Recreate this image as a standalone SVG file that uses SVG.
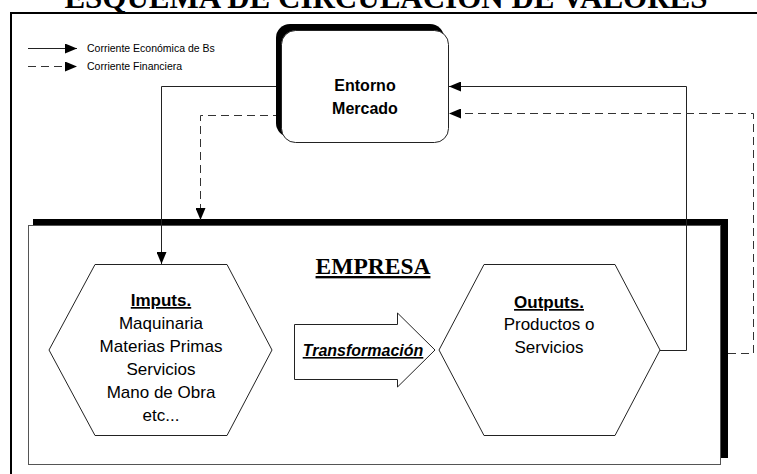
<svg xmlns="http://www.w3.org/2000/svg" width="757" height="474" viewBox="0 0 757 474">
<defs>
<marker id="ah" viewBox="0 0 12 10" refX="12" refY="5" markerWidth="12" markerHeight="10" markerUnits="userSpaceOnUse" orient="auto">
<path d="M0,0 L12,5 L0,10 Z" fill="#000"/>
</marker>
<style>
.ln{fill:none;stroke:#222;stroke-width:1}
.ds{fill:none;stroke:#333;stroke-width:1;stroke-dasharray:8,5}
.sh{fill:#fff;stroke:#222;stroke-width:1}
.t{font-family:"Liberation Sans",Arial,sans-serif;fill:#000}
.b{font-weight:bold}
.c{text-anchor:middle}
.s{font-family:"Liberation Serif","Times New Roman",serif;font-weight:bold;fill:#000;text-anchor:middle}
</style>
</defs>
<rect width="757" height="474" fill="#fff"/>
<text class="s" x="386" y="8" font-size="31">ESQUEMA DE CIRCULACIÓN DE VALORES</text>
<path d="M11,480 L11,13 L760,13" fill="none" stroke="#000" stroke-width="2"/>
<g id="legend">
<line class="ln" x1="28" y1="48.5" x2="77" y2="48.5" marker-end="url(#ah)"/>
<text class="t" x="87" y="52" font-size="10.5">Corriente Económica de Bs</text>
<line class="ds" x1="28" y1="66.5" x2="77" y2="66.5" marker-end="url(#ah)"/>
<text class="t" x="87" y="70" font-size="10.5">Corriente Financiera</text>
</g>
<g id="empresa">
<rect x="33" y="219" width="695" height="239" fill="#000"/>
<rect x="28.5" y="225.5" width="692" height="239" fill="#fff" stroke="#555" stroke-width="1"/>
<text class="s" x="373" y="274" font-size="23.5" text-decoration="underline">EMPRESA</text>
</g>
<g id="connectors">
<polyline class="ln" points="281,86.5 161.5,86.5 161.5,264" marker-end="url(#ah)"/>
<polyline class="ds" points="281,115.5 200.5,115.5 200.5,220" marker-end="url(#ah)"/>
<polyline class="ln" points="660,350.5 686.5,350.5 686.5,86.5 449,86.5" marker-end="url(#ah)"/>
<polyline class="ds" points="728,353.5 753.5,353.5 753.5,113.5 449,113.5" marker-end="url(#ah)"/>
</g>
<g id="entorno">
<rect x="276" y="24" width="168" height="113" rx="14" fill="#000"/>
<rect x="281.5" y="30.5" width="167" height="112" rx="14" class="sh"/>
<text class="t b c" x="365" y="91" font-size="16">Entorno</text>
<text class="t b c" x="365" y="114" font-size="16">Mercado</text>
</g>
<g id="imputs">
<polygon class="sh" points="95,264.5 227,264.5 272,350 227,435.5 95,435.5 49,350"/>
<text class="t b c" x="161" y="306" font-size="17" text-decoration="underline">Imputs.</text>
<text class="t c" x="161" y="329" font-size="17">Maquinaria</text>
<text class="t c" x="161" y="352" font-size="17">Materias Primas</text>
<text class="t c" x="161" y="375" font-size="17">Servicios</text>
<text class="t c" x="161" y="398" font-size="17">Mano de Obra</text>
<text class="t c" x="161" y="421" font-size="17">etc...</text>
</g>
<g id="transformacion">
<polygon class="sh" points="294.5,324.5 397.5,324.5 397.5,313 435,350 397.5,387 397.5,379.5 294.5,379.5"/>
<text class="t b c" x="363" y="356" font-size="16" font-style="italic" text-decoration="underline">Transformación</text>
</g>
<g id="outputs">
<polygon class="sh" points="484,264.5 615,264.5 660,350 615,435.5 484,435.5 439,350"/>
<text class="t b c" x="549" y="308" font-size="17" text-decoration="underline">Outputs.</text>
<text class="t c" x="549" y="330" font-size="17">Productos o</text>
<text class="t c" x="549" y="353" font-size="17">Servicios</text>
</g>
</svg>
